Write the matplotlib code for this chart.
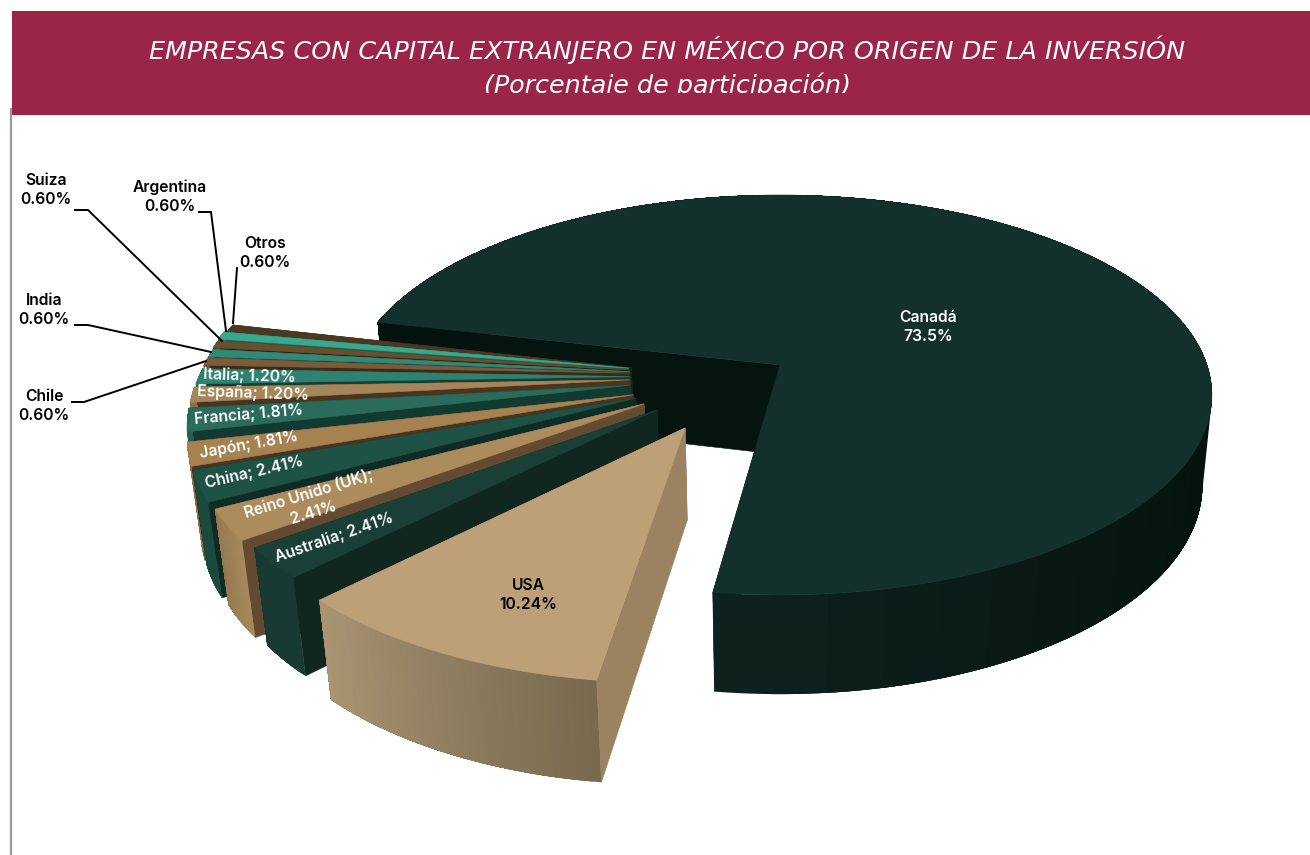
import numpy as np
import matplotlib
matplotlib.use("Agg")
import matplotlib.pyplot as plt
from matplotlib.patches import Polygon, Rectangle
from matplotlib.colors import to_rgb

# ---------- data ----------
countries = ["Canadá", "USA", "Australia", "Reino Unido (UK)", "China", "Japón", "Francia",
             "España", "Italia", "Chile", "India", "Suiza", "Argentina", "Otros"]
shares = [73.5, 10.24, 2.41, 2.41, 2.41, 1.81, 1.81, 1.20, 1.20, 0.60, 0.60, 0.60, 0.60, 0.60]

# ---------- style ----------
top_colors = ["#13302a", "#bda078", "#1a3f36", "#ac8c5c", "#1e5244", "#a5824f", "#2a6b5c",
              "#a5865a", "#2f8271", "#7a5c3c", "#338877", "#66502f", "#3aa88f", "#4a3823"]
wall_colors = ["#05140f", "#9b8260", "#10261f", "#644a30", "#0e2c25", "#4a3420", "#123a30",
               "#4a3420", "#143e34", "#3a2a18", "#164a3c", "#302212", "#1b6a58", "#2b1e10"]
rim_start = ["#0e211c", "#78694f", "#183a32", "#a6895c", "#1a4a3d", "#8f7044", "#245e50",
             "#8f7044", "#286f60", "#6a4f33", "#2c7566", "#584429", "#32917c", "#3f301e"]
rim_end = ["#04130e", "#ab9573", "#183a32", "#94794f", "#1a4a3d", "#8f7044", "#245e50",
           "#8f7044", "#286f60", "#6a4f33", "#2c7566", "#584429", "#32917c", "#3f301e"]
explode_dx = [0, -.212, -.278, -.309, -.329, -.336, -.346, -.349, -.349, -.350, -.350, -.352, -.354, -.347]
explode_dy = [0, -.307, -.222, -.193, -.165, -.149, -.102, -.075, -.059, -.041, -.034, -.025, -.016, -.015]

START_ANGLE = -97.7
CX, CY = 780.0, 365.0
SX, SY = 427.0, 195.5
TILT, FALL, DEPTH = 0.15, 0.022, 91.5


def project(x, y, z=0.0):
    w = 1 + TILT * np.asarray(y) + FALL * z
    return CX + SX * np.asarray(x) / w, CY + (-SY * np.asarray(y) + DEPTH * z) / w


def mix(a, b, t):
    a, b = np.array(to_rgb(a)), np.array(to_rgb(b))
    return tuple(a + (b - a) * t)


fig = plt.figure(figsize=(13.10, 8.55), dpi=100, facecolor="white")
ax = fig.add_axes([0, 0, 1, 1])
ax.set_xlim(0, 1310)
ax.set_ylim(855, 0)
ax.axis("off")

# axis line and header
ax.plot([11, 11], [108, 855], color="#9a9a9a", lw=1.6, solid_capstyle="butt", zorder=1)
ax.add_patch(Rectangle((12, 11), 1298, 104, fc="#9b2547", ec="none", zorder=2))
clip = Rectangle((12, 11), 1298, 82, transform=ax.transData)
TITLE_FONT = ["DejaVu Sans"]
ax.text(667, 50, "EMPRESAS CON CAPITAL EXTRANJERO EN MÉXICO POR ORIGEN DE LA INVERSIÓN",
        color="white", ha="center", va="center", fontsize=18.3, style="italic",
        family=TITLE_FONT, zorder=3)
sub = ax.text(667, 85, "(Porcentaje de participación)", color="white", ha="center", va="center",
              fontsize=18.3, style="italic", family=TITLE_FONT, zorder=3)
sub.set_clip_path(clip)
sub.set_clip_on(True)

# slices, back to front
z = 10
angles = []
a = START_ANGLE
for i, share in enumerate(shares):
    sweep = share / sum(shares) * 360
    if i == 0:
        angles.append((START_ANGLE, START_ANGLE + sweep))
    else:
        angles.append((a, a - sweep))
        a -= sweep

order = [0] + list(range(len(shares) - 1, 0, -1))
for i in order:
    a0, a1 = angles[i]
    ox, oy = explode_dx[i], explode_dy[i]
    ts = np.radians(np.linspace(a0, a1, 241))
    rx, ry = ox + np.cos(ts), oy + np.sin(ts)
    # radial walls
    for end in (-1, 0):
        px, py = project([ox, rx[end]], [oy, ry[end]], 0.0)
        bx, by = project([ox, rx[end]], [oy, ry[end]], 1.0)
        pts = [(px[0], py[0]), (px[1], py[1]), (bx[1], by[1]), (bx[0], by[0])]
        ax.add_patch(Polygon(pts, fc=wall_colors[i], ec=wall_colors[i], lw=0.4, zorder=z))
        z += 1
    # rim, painted as overlapping bands from the far end to the near end
    tx, ty = project(rx, ry, 0.0)
    bx, by = project(rx, ry, 1.0)
    span = 70.0 if i == 0 else abs(a1 - a0)
    step = 6
    for k in range(0, len(ts) - 1, step):
        e = len(ts)
        pts = np.r_[np.c_[tx[k:e], ty[k:e]], np.c_[bx[k:e], by[k:e]][::-1]]
        t = min(1.0, abs(np.degrees(ts[k]) - a0) / span)
        ax.add_patch(Polygon(pts, fc=mix(rim_start[i], rim_end[i], t), ec="none", zorder=z))
        z += 1
    # top face
    fx, fy = project(np.r_[ox, rx], np.r_[oy, ry], 0.0)
    ax.add_patch(Polygon(np.c_[fx, fy], fc=top_colors[i], ec=top_colors[i], lw=0.4, zorder=z))
    z += 1

# labels
LABEL_FONT = ["Inter", "DejaVu Sans"]
TOP_Z = z + 10
LABEL_SIZE = 11.3


def pct(v):
    return f"{v:.2f}%" if v != 73.5 else "73.5%"


inside = {
    "Italia": (249, 376, -2), "España": (253, 393, -2), "Francia": (249, 415, 5),
    "Japón": (249, 445, 10), "China": (254, 472, 13), "Australia": (334, 537, 19),
}
for name, (x, y, rot) in inside.items():
    v = shares[countries.index(name)]
    ax.text(x, y, f"{name}; {pct(v)}", color="white", ha="center", va="center", rotation=rot,
            rotation_mode="anchor", fontsize=LABEL_SIZE, weight=600, family=LABEL_FONT, zorder=TOP_Z)
ax.text(311, 503, f"Reino Unido (UK);\n{pct(shares[3])}", color="white", ha="center", va="center",
        rotation=17, rotation_mode="anchor", fontsize=LABEL_SIZE, weight=600, family=LABEL_FONT,
        linespacing=1.3, zorder=TOP_Z)

big = {"Canadá": (928, 327, "white"), "USA": (528, 595, "black")}
outer = {"Suiza": (46, 190), "Argentina": (170, 197), "Otros": (265, 253), "India": (44, 310), "Chile": (44, 406)}
for name, (x, y, c) in big.items():
    ax.text(x, y, f"{name}\n{pct(shares[countries.index(name)])}", color=c, ha="center", va="center",
            fontsize=LABEL_SIZE, weight=600, family=LABEL_FONT, linespacing=1.32, zorder=TOP_Z)
for name, (x, y) in outer.items():
    ax.text(x, y, f"{name}\n{pct(shares[countries.index(name)])}", color="black", ha="center", va="center",
            fontsize=LABEL_SIZE, weight=600, family=LABEL_FONT, linespacing=1.32, zorder=TOP_Z)

leaders = [
    ([75, 88, 222], [210, 210, 341]),
    ([199, 211, 226], [212, 212, 331]),
    ([237, 233], [268, 323]),
    ([75, 88, 211], [325, 325, 352]),
    ([72, 84, 206], [402, 402, 361]),
]
for lx, ly in leaders:
    ax.plot(lx, ly, color="black", lw=1.4, solid_joinstyle="miter", zorder=TOP_Z - 1)

fig.savefig("out.png", dpi=100)
